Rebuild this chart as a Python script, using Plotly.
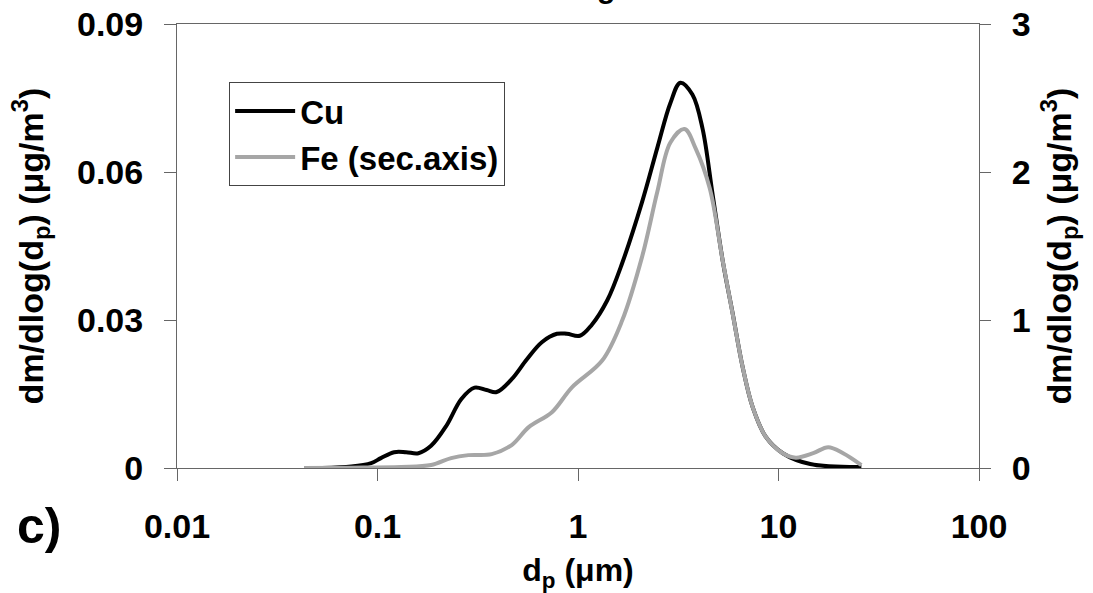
import plotly.graph_objects as go

# Particle diameter (µm) and mass size distributions
cu_dp = [0.053, 0.074, 0.093, 0.104, 0.121, 0.139, 0.160, 0.185, 0.220, 0.262,
         0.305, 0.350, 0.393, 0.467, 0.555, 0.660, 0.785, 0.881, 1.02, 1.17,
         1.40, 1.66, 2.09, 2.49, 2.89, 3.24, 3.72, 4.18, 4.69, 5.27,
         5.91, 6.63, 7.44, 8.65, 10.5, 14.4, 25.9]
cu_val = [0.0, 0.0003, 0.001, 0.002, 0.0032, 0.0032, 0.0030, 0.0045, 0.0085, 0.014,
          0.0163, 0.0158, 0.0154, 0.018, 0.022, 0.0255, 0.0272, 0.0272, 0.0268, 0.029,
          0.034, 0.0415, 0.054, 0.065, 0.074, 0.0781, 0.0757, 0.0688, 0.0555, 0.042,
          0.0313, 0.0204, 0.0123, 0.0063, 0.0030, 0.0008, 0.0002]

fe_dp = [0.043, 0.074, 0.131, 0.185, 0.233, 0.284, 0.371, 0.467, 0.568, 0.741,
         0.933, 1.32, 1.66, 2.09, 2.49, 2.89, 3.40, 3.86, 4.54, 5.27,
         5.91, 6.63, 7.44, 8.65, 10.5, 12.2, 14.9, 17.7, 21.0, 25.9]
fe_val = [0.0, 0.002, 0.007, 0.02, 0.067, 0.087, 0.094, 0.155, 0.276, 0.377,
          0.545, 0.726, 0.996, 1.43, 1.87, 2.2, 2.29, 2.16, 1.89, 1.40,
          1.04, 0.68, 0.41, 0.21, 0.10, 0.07, 0.10, 0.141, 0.10, 0.02]

x_ticks = [0.01, 0.1, 1, 10, 100]
x_ticktext = ["0.01", "0.1", "1", "10", "100"]
y1_ticks = [0, 0.03, 0.06, 0.09]
y1_ticktext = ["0", "0.03", "0.06", "0.09"]
y2_ticks = [0, 1, 2, 3]
y2_ticktext = ["0", "1", "2", "3"]

FONT = "Liberation Sans, Arial, sans-serif"
AXC = "#666666"

fig = go.Figure()
fig.add_trace(go.Scatter(x=cu_dp, y=cu_val, name="Cu", mode="lines",
                         line=dict(color="black", width=4, shape="spline", smoothing=1.0),
                         yaxis="y"))
fig.add_trace(go.Scatter(x=fe_dp, y=fe_val, name="Fe (sec.axis)", mode="lines",
                         line=dict(color="#a6a6a6", width=4, shape="spline", smoothing=1.0),
                         yaxis="y2"))

fig.update_layout(
    width=1093, height=593,
    margin=dict(l=177, r=114, t=24, b=125),
    paper_bgcolor="white", plot_bgcolor="white",
    font=dict(family=FONT, size=32, color="black", weight="bold"),
    showlegend=True,
    legend=dict(x=0.065, y=0.869, xanchor="left", yanchor="top",
                bordercolor="#444444", borderwidth=1, bgcolor="white",
                font=dict(size=33, family=FONT, weight="bold"),
                itemwidth=60, tracegroupgap=0),
    xaxis=dict(type="log", range=[-2, 2], tickvals=x_ticks, ticktext=x_ticktext,
               showgrid=False, zeroline=False, showline=True, linecolor=AXC, linewidth=1,
               mirror=True, ticks="outside", ticklen=12, tickcolor=AXC,
               ticklabelstandoff=16, automargin=False,
               tickfont=dict(size=34),
               title=dict(text="d<sub>p</sub> (μm)", font=dict(size=32), standoff=20)),
    yaxis=dict(range=[0, 0.09], tickvals=y1_ticks, ticktext=y1_ticktext,
               showgrid=False, zeroline=False, showline=True, linecolor=AXC, linewidth=1,
               ticks="outside", ticklen=12, tickcolor=AXC, ticklabelstandoff=14,
               automargin=False, tickfont=dict(size=34),
               title=dict(text="dm/dlog(d<sub>p</sub>) (μg/m<sup>3</sup>)",
                          font=dict(size=34), standoff=23)),
    yaxis2=dict(range=[0, 3], tickvals=y2_ticks, ticktext=y2_ticktext,
                overlaying="y", side="right", anchor="x",
                showgrid=False, zeroline=False, showline=True, linecolor=AXC, linewidth=1,
                ticks="outside", ticklen=11, tickcolor=AXC, ticklabelstandoff=14,
                automargin=False, tickfont=dict(size=34),
                title=dict(text="dm/dlog(d<sub>p</sub>) (μg/m<sup>3</sup>)",
                           font=dict(size=34), standoff=17)),
    yaxis3=dict(range=[0, 3], tickvals=y2_ticks, overlaying="y", side="right",
                anchor="x", showgrid=False, zeroline=False, showline=False,
                ticks="inside", ticklen=12, tickcolor=AXC, showticklabels=False,
                automargin=False),
)

fig.add_annotation(text="c)", xref="paper", yref="paper", x=-0.172, y=-0.13,
                   xanchor="center", yanchor="middle", showarrow=False,
                   font=dict(size=50, family=FONT, weight="bold"))
fig.add_annotation(text="g", xref="paper", yref="paper", x=0.535, y=1.04,
                   xanchor="center", yanchor="bottom", showarrow=False,
                   font=dict(size=30, family=FONT, weight="bold"))

fig.write_html("out.html")
